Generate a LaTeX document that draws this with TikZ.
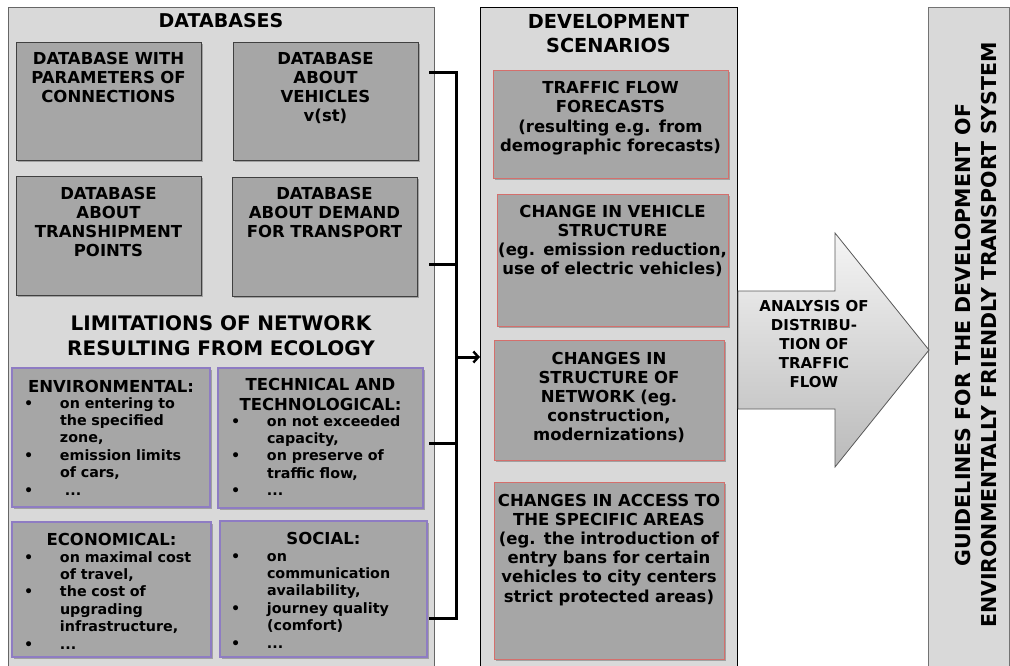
\documentclass[tikz,border=0pt]{standalone}
\usepackage{fontspec}
\setmainfont{DejaVu Sans}
\usetikzlibrary{arrows.meta,shadows}
\definecolor{panelc}{HTML}{D9D9D9}
\definecolor{boxg}{HTML}{A6A6A6}
\definecolor{dbline}{HTML}{404040}
\definecolor{limline}{HTML}{8E7CC3}
\definecolor{scline}{HTML}{D46F6C}
\newcommand\mybul{\makebox[36pt][l]{•}}
\newcommand\myind{\hspace*{36pt}}
\begin{document}
\begin{tikzpicture}[x=1pt,y=-1pt,
  every node/.style={inner sep=0pt, outer sep=0pt},
  panelbox/.style={draw=#1, fill=panelc, line width=0.8pt, anchor=north west},
  shbox/.style={fill=boxg, anchor=north west, line width=0.9pt,
    drop shadow={shadow xshift=1.6pt, shadow yshift=-1.6pt, fill=black!55, opacity=0.55}},
  dbbox/.style={shbox, draw=dbline},
  limbox/.style={shbox, draw=limline, line width=1.1pt},
  scbox/.style={shbox, draw=scline},
  title/.style={anchor=base, align=center, text width=420pt, font=\fontsize{19}{24}\selectfont\bfseries},
  boxtext/.style={anchor=base, align=center, text width=250pt, font=\fontsize{16.5}{19.2}\selectfont\bfseries},
  headtext/.style={anchor=base, align=center, text width=200pt, font=\fontsize{16.5}{20}\selectfont\bfseries},
  listtext/.style={anchor=base west, align=left, text width=200pt, font=\fontsize{14.3}{17.4}\selectfont\bfseries},
  bk/.style={line width=3pt, line cap=rect}
]
\clip (0,0) rectangle (1010,665);
\fill[white] (0,0) rectangle (1010,665);

% panels
\node[panelbox=black!60, minimum width=426pt, minimum height=670pt] (lp) at (8,7) {};
\node[panelbox=black, minimum width=257pt, minimum height=670pt] (mp) at (480,7) {};
\node[panelbox=black!55, minimum width=81pt, minimum height=670pt] (rp) at (928,7) {};

% titles
\node[title] (tdb) at (221,27) {DATABASES};
\node[title, font=\fontsize{20}{25}\selectfont\bfseries] (tlim) at (221,330) {LIMITATIONS OF NETWORK\\RESULTING FROM ECOLOGY};
\node[title, font=\fontsize{19.3}{24}\selectfont\bfseries] (tdev) at (608.5,28) {DEVELOPMENT\\SCENARIOS};

% database boxes
\node[dbbox, minimum width=185pt, minimum height=118pt] (db1) at (16,42) {};
\node[dbbox, minimum width=185pt, minimum height=118pt] (db2) at (233,42) {};
\node[dbbox, minimum width=185pt, minimum height=119pt] (db3) at (16,176) {};
\node[dbbox, minimum width=185pt, minimum height=119pt] (db4) at (232,177) {};
\node[boxtext] (db1t) at (108.5,64) {DATABASE WITH\\PARAMETERS OF\\CONNECTIONS};
\node[boxtext] (db2t) at (325.5,64) {DATABASE\\ABOUT\\VEHICLES\\v(st)};
\node[boxtext] (db3t) at (108.5,199) {DATABASE\\ABOUT\\TRANSHIPMENT\\POINTS};
\node[boxtext] (db4t) at (324.5,199) {DATABASE\\ABOUT DEMAND\\FOR TRANSPORT};

% limitation boxes
\node[limbox, minimum width=198pt, minimum height=139pt] (env) at (12,368) {};
\node[limbox, minimum width=205pt, minimum height=140pt] (tech) at (218,368) {};
\node[limbox, minimum width=199pt, minimum height=135pt] (econ) at (12,522) {};
\node[limbox, minimum width=207pt, minimum height=136pt] (soc) at (220,521) {};

\node[headtext] (envh) at (111,392) {ENVIRONMENTAL:};
\node[listtext] (envl) at (24,408) {\mybul on entering to\\ \myind the specified\\ \myind zone,\\ \mybul emission limits\\ \myind of cars,\\ \mybul \hspace{5pt}...};

\node[headtext] (techh) at (320.5,390) {TECHNICAL AND\\TECHNOLOGICAL:};
\node[listtext] (techl) at (231,426) {\mybul on not exceeded\\ \myind capacity,\\ \mybul on preserve of\\ \myind traffic flow,\\ \mybul ...};

\node[headtext] (econh) at (111.5,545) {ECONOMICAL:};
\node[listtext] (econl) at (24,562) {\mybul on maximal cost\\ \myind of travel,\\ \mybul the cost of\\ \myind upgrading\\ \myind infrastructure,\\ \mybul ...};

\node[headtext] (soch) at (323.5,544) {SOCIAL:};
\node[listtext] (socl) at (231,561) {\mybul on\\ \myind communication\\ \myind availability,\\ \mybul journey quality\\ \myind (comfort)\\ \mybul ...};

% scenario boxes
\node[scbox, minimum width=235pt, minimum height=108pt] (s1) at (493,70) {};
\node[scbox, minimum width=231pt, minimum height=132pt] (s2) at (497,194) {};
\node[scbox, minimum width=230pt, minimum height=120pt] (s3) at (494,340) {};
\node[scbox, minimum width=230pt, minimum height=177pt] (s4) at (494,482) {};
\node[boxtext, font=\fontsize{16.5}{19.6}\selectfont\bfseries] (s1t) at (610.5,93) {TRAFFIC FLOW\\FORECASTS\\(resulting e.g. from\\demographic forecasts)};
\node[boxtext] (s2t) at (612.5,217) {CHANGE IN VEHICLE\\STRUCTURE\\(eg. emission reduction,\\use of electric vehicles)};
\node[boxtext] (s3t) at (609,364) {CHANGES IN\\STRUCTURE OF\\NETWORK (eg.\\construction,\\modernizations)};
\node[boxtext] (s4t) at (609,506) {CHANGES IN ACCESS TO\\THE SPECIFIC AREAS\\(eg. the introduction of\\entry bans for certain\\vehicles to city centers\\strict protected areas)};

% bracket connector
\coordinate (b1) at (430,72);
\coordinate (b2) at (430,264);
\coordinate (b3) at (430,443);
\coordinate (b4) at (430,618);
\coordinate (bx) at (456,357);
\draw[bk] (b1) -| (bx |- b4) -- (b4);
\draw[bk] (b2) -- (b2 -| bx);
\draw[bk] (b3) -- (b3 -| bx);
\draw[line width=3pt, -{Straight Barb[length=5pt,width=11pt,line width=2.4pt]}] (bx) -- (bx -| mp.west);

% big arrow
\path[top color=black!4, bottom color=black!27, draw=black!65, line width=0.8pt]
  (738,291) -- (835,291) -- (835,233) -- (929,350) -- (835,467) -- (835,409) -- (738,409) -- cycle;
\node[anchor=base, align=center, text width=120pt, font=\fontsize{15}{19}\selectfont\bfseries] (ana) at (814,311)
  {ANALYSIS OF\\DISTRIBU-\\TION OF\\TRAFFIC\\FLOW};

% right panel text
\node[rotate=90, align=center, font=\fontsize{20.5}{26}\selectfont\bfseries] (guide) at (976.5,335)
  {GUIDELINES FOR THE DEVELOPMENT OF\\ENVIRONMENTALLY FRIENDLY TRANSPORT SYSTEM};
\end{tikzpicture}
\end{document}
